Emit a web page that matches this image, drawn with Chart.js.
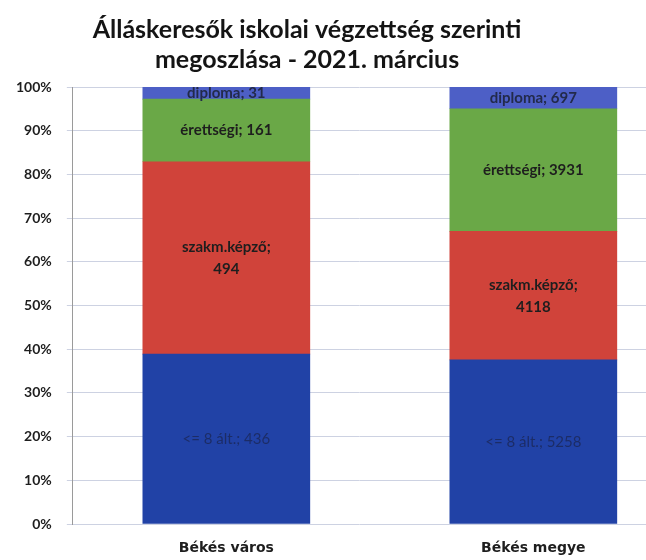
<!DOCTYPE html>
<html>
<head>
<meta charset="utf-8">
<script src="https://cdn.jsdelivr.net/npm/chart.js@4/dist/chart.umd.min.js"></script>
<style>
html,body{margin:0;padding:0;background:#fff;}
#wrap{width:646px;height:560px;position:relative;}
</style>
</head>
<body>
<div id="wrap"><canvas id="c"></canvas></div>
<script>
const titleLines = ['Álláskeresők iskolai végzettség szerinti', 'megoszlása - 2021. március'];
const categories = ['Békés város', 'Békés megye'];
const seriesNames = ['<= 8 ált.', 'szakm.képző', 'érettségi', 'diploma'];
const alt8 = [436, 5258];
const szakm = [494, 4118];
const erettsegi = [161, 3931];
const diploma = [31, 697];
const yTicks = [0, 10, 20, 30, 40, 50, 60, 70, 80, 90, 100];

const seriesValues = [alt8, szakm, erettsegi, diploma];
const colors = ['#2142a6', '#d0433a', '#6aa847', '#4d5fc6'];
const labelColors = ['rgba(25,30,60,0.6)', '#1e1e1e', '#1e1e1e', '#222a4a'];
const totals = categories.map((_, i) => seriesValues.reduce((s, arr) => s + arr[i], 0));

const datasets = seriesValues.map((arr, k) => ({
  label: seriesNames[k],
  data: arr.map((v, i) => ({ x: i, y: v / totals[i] * 100 })),
  backgroundColor: colors[k],
  borderWidth: 0,
  barThickness: 167
}));

const labelPlugin = {
  id: 'segLabels',
  afterDatasetsDraw(chart) {
    const ctx = chart.ctx;
    ctx.save();
    ctx.textAlign = 'center';
    ctx.textBaseline = 'middle';
    chart.data.datasets.forEach((ds, k) => {
      const meta = chart.getDatasetMeta(k);
      meta.data.forEach((el, i) => {
        const v = seriesValues[k][i];
        const lines = k === 1 ? [seriesNames[k] + ';', String(v)] : [seriesNames[k] + '; ' + v];
        const cy = (el.y + el.base) / 2;
        ctx.font = (k === 0 ? '' : 'bold ') + '15px Lato';
        ctx.fillStyle = labelColors[k];
        const lh = 22;
        lines.forEach((t, j) => {
          ctx.fillText(t, el.x, cy + (j - (lines.length - 1) / 2) * lh);
        });
      });
    });
    ctx.restore();
  }
};

const titleShift = {
  id: 'titleShift',
  afterLayout(chart) {
    if (chart.titleBlock) {
      chart.titleBlock.left = 0;
      chart.titleBlock.right = 614;
    }
  }
};

new Chart(document.getElementById('c'), {
  type: 'bar',
  data: { datasets },
  plugins: [labelPlugin, titleShift],
  options: {
    responsive: true,
    maintainAspectRatio: false,
    animation: false,
    layout: { padding: { left: 1, right: 0, top: 0, bottom: 0 } },
    plugins: {
      legend: { display: false },
      tooltip: { enabled: false },
      title: {
        display: true,
        text: titleLines,
        color: '#141414',
        font: { family: 'Lato', size: 25, weight: 'bold', lineHeight: 1.2 },
        padding: { top: 15, bottom: 12 }
      }
    },
    scales: {
      x: {
        type: 'linear',
        stacked: true,
        offset: false,
        min: -0.5,
        max: 1.367,
        grid: { display: false, offset: false, drawTicks: true, tickLength: 8 },
        border: { display: false },
        afterBuildTicks: (s) => { s.ticks = categories.map((_, i) => ({ value: i })); },
        afterFit: (s) => { s.height = 36; },
        ticks: {
          autoSkip: false,
          maxRotation: 0,
          padding: 8,
          color: '#1e1e1e',
          font: { family: 'DejaVu Sans', size: 14, weight: 'bold' },
          callback: (v) => categories[v] !== undefined ? categories[v] : ''
        }
      },
      y: {
        stacked: true,
        min: 0,
        max: 100,
        afterBuildTicks: (s) => { s.ticks = yTicks.map(v => ({ value: v })); },
        grid: { color: '#cdd2e2', lineWidth: 1, tickLength: 6, drawTicks: true },
        border: { display: true, color: '#9a9a9a', width: 1 },
        ticks: {
          padding: 15,
          color: '#1e1e1e',
          font: { family: 'Lato', size: 14, weight: 'bold' },
          callback: (v) => v + '%'
        }
      }
    }
  }
});
</script>
</body>
</html>
